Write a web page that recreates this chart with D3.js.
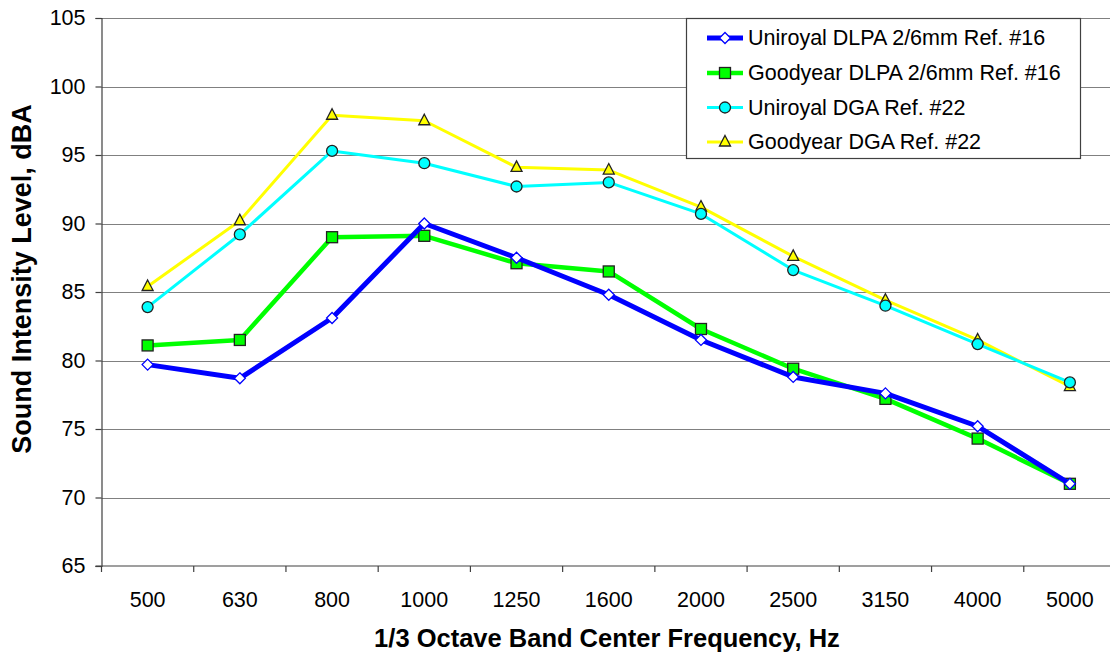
<!DOCTYPE html>
<html>
<head>
<meta charset="utf-8">
<script src="https://cdn.jsdelivr.net/npm/d3@7/dist/d3.min.js"></script>
<style>
  html, body { margin: 0; padding: 0; background: #fff; }
  svg { display: block; font-family: "Liberation Sans", Arial, sans-serif; }
</style>
</head>
<body>
<svg id="chart" width="1110" height="655"></svg>
<script>
// 1/3 octave band centre frequencies
const categories = ["500","630","800","1000","1250","1600","2000","2500","3150","4000","5000"];

// Sound intensity levels, dBA
const uniroyalDLPA = [79.7, 78.7, 83.1, 90.0, 87.5, 84.8, 81.5, 78.8, 77.6, 75.2, 71.0];
const goodyearDLPA = [81.1, 81.5, 89.0, 89.1, 87.1, 86.5, 82.3, 79.4, 77.2, 74.3, 71.0];
const uniroyalDGA  = [83.9, 89.2, 95.3, 94.4, 92.7, 93.0, 90.7, 86.6, 84.0, 81.2, 78.4];
const goodyearDGA  = [85.4, 90.2, 97.9, 97.5, 94.1, 93.9, 91.2, 87.6, 84.4, 81.5, 78.1];

const seriesNames = [
  "Uniroyal DLPA 2/6mm Ref. #16",
  "Goodyear DLPA 2/6mm Ref. #16",
  "Uniroyal DGA Ref. #22",
  "Goodyear DGA Ref. #22"
];

const yTicks = [65, 70, 75, 80, 85, 90, 95, 100, 105];

const series = [
  { name: seriesNames[0], values: uniroyalDLPA, color: "#0000ff", width: 5,   marker: "diamond" },
  { name: seriesNames[1], values: goodyearDLPA, color: "#00ff00", width: 4.5, marker: "square" },
  { name: seriesNames[2], values: uniroyalDGA,  color: "#00ffff", width: 3,   marker: "circle" },
  { name: seriesNames[3], values: goodyearDGA,  color: "#ffff00", width: 3,   marker: "triangle" }
];

const FONT = "'Liberation Sans', Arial, sans-serif";
const svg = d3.select("#chart");
const plot = { left: 101.5, top: 18, right: 1116, bottom: 566 };

const x = d3.scaleBand().domain(categories).range([plot.left, plot.right]).paddingInner(0).paddingOuter(0);
const y = d3.scaleLinear().domain([65, 105]).range([plot.bottom, plot.top]);
const cx = c => x(c) + x.bandwidth() / 2;

// horizontal gridlines
svg.append("g")
  .selectAll("line")
  .data(yTicks.filter(t => t > 65))
  .join("line")
  .attr("x1", plot.left).attr("x2", plot.right)
  .attr("y1", d => Math.round(y(d)) + 0.5).attr("y2", d => Math.round(y(d)) + 0.5)
  .attr("stroke", "#808080").attr("stroke-width", 1.2);

// y axis
const yAxis = svg.append("g")
  .attr("transform", `translate(${plot.left},0)`)
  .call(d3.axisLeft(y).tickValues(yTicks).tickSize(6).tickPadding(10).tickFormat(d3.format("d")));
yAxis.select(".domain").attr("stroke", "#404040").attr("stroke-width", 1.2);
yAxis.selectAll(".tick line").attr("stroke", "#404040").attr("stroke-width", 1.2);
yAxis.selectAll("text").attr("font-size", 21.5).attr("fill", "#000").attr("font-family", FONT);

// x axis: ticks on category boundaries
const xAxis = svg.append("g")
  .attr("transform", `translate(0,${plot.bottom})`);
xAxis.append("line")
  .attr("x1", plot.left - 6).attr("x2", plot.right)
  .attr("y1", 0).attr("y2", 0)
  .attr("stroke", "#404040").attr("stroke-width", 1.2);
xAxis.selectAll("line.tick")
  .data(categories)
  .join("line")
  .attr("class", "tick")
  .attr("x1", d => x(d)).attr("x2", d => x(d))
  .attr("y1", 0).attr("y2", 6)
  .attr("stroke", "#404040").attr("stroke-width", 1.2);
xAxis.selectAll("text")
  .data(categories)
  .join("text")
  .attr("x", d => cx(d))
  .attr("y", 41)
  .attr("text-anchor", "middle")
  .attr("font-size", 21.5)
  .attr("fill", "#000")
  .text(d => d);

// axis titles
svg.append("text")
  .attr("x", 607).attr("y", 647)
  .attr("text-anchor", "middle")
  .attr("font-size", 25.5).attr("font-weight", "bold")
  .text("1/3 Octave Band Center Frequency, Hz");

svg.append("text")
  .attr("transform", `translate(31,279) rotate(-90)`)
  .attr("text-anchor", "middle")
  .attr("font-size", 27).attr("font-weight", "bold")
  .text("Sound Intensity Level, dBA");

// marker drawing
function drawMarker(sel, type, color) {
  if (type === "diamond") {
    sel.append("path").attr("d", "M0,-5.5L5.5,0L0,5.5L-5.5,0Z")
      .attr("fill", "#fff").attr("stroke", color).attr("stroke-width", 1.3);
  } else if (type === "square") {
    sel.append("rect").attr("x", -5.5).attr("y", -5.5).attr("width", 11).attr("height", 11)
      .attr("fill", color).attr("stroke", "#222").attr("stroke-width", 1.3);
  } else if (type === "circle") {
    sel.append("circle").attr("r", 5.5)
      .attr("fill", color).attr("stroke", "#222").attr("stroke-width", 1.3);
  } else if (type === "triangle") {
    sel.append("path").attr("d", "M0,-6.5L5.5,4L-5.5,4Z")
      .attr("fill", color).attr("stroke", "#222").attr("stroke-width", 1.3);
  }
}

const line = d3.line().x(d => cx(d.c)).y(d => y(d.v));

// draw series back to front so blue sits on top
[...series].reverse().forEach(s => {
  const pts = categories.map((c, i) => ({ c, v: s.values[i] }));
  const g = svg.append("g");
  g.append("path")
    .datum(pts)
    .attr("d", line)
    .attr("fill", "none")
    .attr("stroke", s.color)
    .attr("stroke-width", s.width)
    .attr("stroke-linejoin", "round");
  g.selectAll("g.m")
    .data(pts)
    .join("g")
    .attr("class", "m")
    .attr("transform", d => `translate(${cx(d.c)},${y(d.v)})`)
    .each(function () { drawMarker(d3.select(this), s.marker, s.color); });
});

// legend
const legend = svg.append("g");
legend.append("rect")
  .attr("x", 686.5).attr("y", 18.5).attr("width", 394).attr("height", 140)
  .attr("fill", "#fff").attr("stroke", "#404040").attr("stroke-width", 1.2);
const rowY = [38, 73, 107.5, 142];
series.forEach((s, i) => {
  const row = legend.append("g").attr("transform", `translate(0,${rowY[i]})`);
  row.append("line")
    .attr("x1", 707).attr("x2", 743).attr("y1", 0).attr("y2", 0)
    .attr("stroke", s.color).attr("stroke-width", s.width);
  const m = row.append("g").attr("transform", "translate(725,0)");
  drawMarker(m, s.marker, s.color);
  row.append("text")
    .attr("x", 748).attr("y", 7)
    .attr("font-size", 21.5)
    .attr("fill", "#000")
    .text(s.name);
});
</script>
</body>
</html>
